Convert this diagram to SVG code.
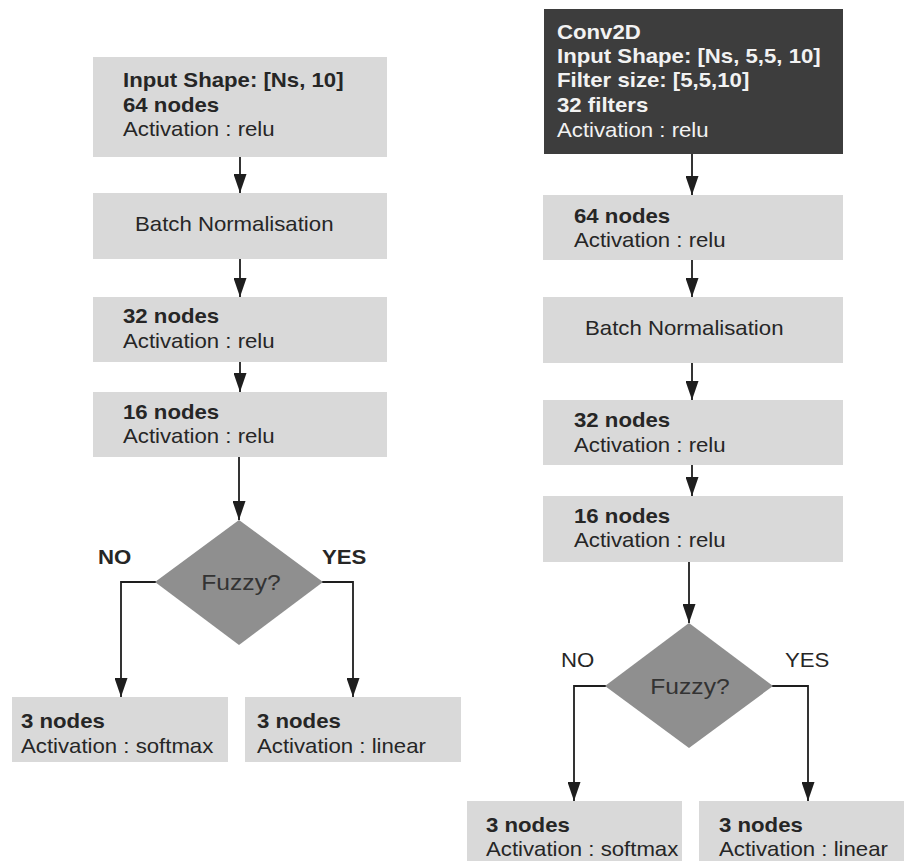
<svg xmlns="http://www.w3.org/2000/svg" width="904" height="861" viewBox="0 0 904 861">
<style>
.box{fill:#d9d9d9;}
.dark{fill:#3d3d3d;}
.dia{fill:#8f8f8f;}
text{font-family:"Liberation Sans",Arial,sans-serif;font-size:20px;fill:#262626;}
.b{font-weight:bold;}
.w{fill:#f2f2f2;}
.fz{font-size:22px;fill:#333;}
.con{fill:none;stroke:#1e1e1e;stroke-width:1.8;}
</style>
<defs>
<marker id="ah" markerUnits="userSpaceOnUse" markerWidth="19" markerHeight="13" refX="19" refY="6.5" orient="auto">
<path d="M0,0 L19,6.5 L0,13 z" fill="#1e1e1e"/>
</marker>
</defs>
<rect width="904" height="861" fill="#ffffff"/>

<g id="connectors">
<line class="con" x1="240" y1="157" x2="240" y2="193" marker-end="url(#ah)"/>
<line class="con" x1="240" y1="259" x2="240" y2="297" marker-end="url(#ah)"/>
<line class="con" x1="240" y1="362" x2="240" y2="392" marker-end="url(#ah)"/>
<line class="con" x1="239" y1="457" x2="239" y2="520" marker-end="url(#ah)"/>
<path class="con" d="M156,582 H121 V697" marker-end="url(#ah)"/>
<path class="con" d="M322,582 H353 V697" marker-end="url(#ah)"/>
<line class="con" x1="692" y1="154" x2="692" y2="195" marker-end="url(#ah)"/>
<line class="con" x1="692" y1="260" x2="692" y2="297" marker-end="url(#ah)"/>
<line class="con" x1="692" y1="363" x2="692" y2="400" marker-end="url(#ah)"/>
<line class="con" x1="692" y1="465" x2="692" y2="496" marker-end="url(#ah)"/>
<line class="con" x1="689" y1="562" x2="689" y2="623" marker-end="url(#ah)"/>
<path class="con" d="M606,686 H574 V801" marker-end="url(#ah)"/>
<path class="con" d="M772,686 H808 V801" marker-end="url(#ah)"/>
</g>

<!-- Left column -->
<g id="L1">
<rect class="box" x="93" y="57" width="294" height="100"/>
<text transform="translate(123 0) scale(1.11 1)"><tspan class="b" x="0" y="87">Input Shape: [Ns, 10]</tspan><tspan class="b" x="0" y="112">64 nodes</tspan><tspan x="0" y="136">Activation : relu</tspan></text>
</g>
<g id="L2">
<rect class="box" x="93" y="193" width="294" height="66"/>
<text transform="translate(135 0) scale(1.11 1)"><tspan x="0" y="231">Batch Normalisation</tspan></text>
</g>
<g id="L3">
<rect class="box" x="93" y="297" width="294" height="65"/>
<text transform="translate(123 0) scale(1.11 1)"><tspan class="b" x="0" y="323">32 nodes</tspan><tspan x="0" y="348">Activation : relu</tspan></text>
</g>
<g id="L4">
<rect class="box" x="93" y="392" width="294" height="65"/>
<text transform="translate(123 0) scale(1.11 1)"><tspan class="b" x="0" y="419">16 nodes</tspan><tspan x="0" y="443">Activation : relu</tspan></text>
</g>
<g id="LD">
<polygon class="dia" points="239,520 323,582 239,645 155,582"/>
<text class="fz" text-anchor="middle" transform="translate(241 0) scale(1.12 1)"><tspan x="0" y="590">Fuzzy?</tspan></text>
</g>
<g id="LNO"><text class="b" transform="translate(98 0) scale(1.11 1)"><tspan x="0" y="564">NO</tspan></text></g>
<g id="LYES"><text class="b" transform="translate(322 0) scale(1.11 1)"><tspan x="0" y="564">YES</tspan></text></g>
<g id="L5">
<rect class="box" x="12" y="697" width="216" height="65"/>
<text transform="translate(21 0) scale(1.11 1)"><tspan class="b" x="0" y="728">3 nodes</tspan><tspan x="0" y="753">Activation : softmax</tspan></text>
</g>
<g id="L6">
<rect class="box" x="245" y="697" width="216" height="65"/>
<text transform="translate(257 0) scale(1.11 1)"><tspan class="b" x="0" y="728">3 nodes</tspan><tspan x="0" y="753">Activation : linear</tspan></text>
</g>

<!-- Right column -->
<g id="R0">
<rect class="dark" x="544" y="9" width="299" height="145"/>
<text class="w" transform="translate(557 0) scale(1.11 1)"><tspan class="b w" x="0" y="39">Conv2D</tspan><tspan class="b w" x="0" y="63">Input Shape: [Ns, 5,5, 10]</tspan><tspan class="b w" x="0" y="87">Filter size: [5,5,10]</tspan><tspan class="b w" x="0" y="112">32 filters</tspan><tspan class="w" x="0" y="137">Activation : relu</tspan></text>
</g>
<g id="R1">
<rect class="box" x="543" y="195" width="300" height="65"/>
<text transform="translate(574 0) scale(1.11 1)"><tspan class="b" x="0" y="223">64 nodes</tspan><tspan x="0" y="247">Activation : relu</tspan></text>
</g>
<g id="R2">
<rect class="box" x="543" y="297" width="300" height="66"/>
<text transform="translate(585 0) scale(1.11 1)"><tspan x="0" y="335">Batch Normalisation</tspan></text>
</g>
<g id="R3">
<rect class="box" x="543" y="400" width="300" height="65"/>
<text transform="translate(574 0) scale(1.11 1)"><tspan class="b" x="0" y="427">32 nodes</tspan><tspan x="0" y="452">Activation : relu</tspan></text>
</g>
<g id="R4">
<rect class="box" x="543" y="496" width="300" height="66"/>
<text transform="translate(574 0) scale(1.11 1)"><tspan class="b" x="0" y="523">16 nodes</tspan><tspan x="0" y="547">Activation : relu</tspan></text>
</g>
<g id="RD">
<polygon class="dia" points="689,623 773,686 689,748 605,686"/>
<text class="fz" text-anchor="middle" transform="translate(690 0) scale(1.12 1)"><tspan x="0" y="694">Fuzzy?</tspan></text>
</g>
<g id="RNO"><text transform="translate(561 0) scale(1.11 1)"><tspan x="0" y="667">NO</tspan></text></g>
<g id="RYES"><text transform="translate(785 0) scale(1.11 1)"><tspan x="0" y="667">YES</tspan></text></g>
<g id="R5">
<rect class="box" x="467" y="801" width="215" height="60"/>
<text transform="translate(486 0) scale(1.11 1)"><tspan class="b" x="0" y="832">3 nodes</tspan><tspan x="0" y="856">Activation : softmax</tspan></text>
</g>
<g id="R6">
<rect class="box" x="699" y="801" width="205" height="60"/>
<text transform="translate(719 0) scale(1.11 1)"><tspan class="b" x="0" y="832">3 nodes</tspan><tspan x="0" y="856">Activation : linear</tspan></text>
</g>
</svg>
